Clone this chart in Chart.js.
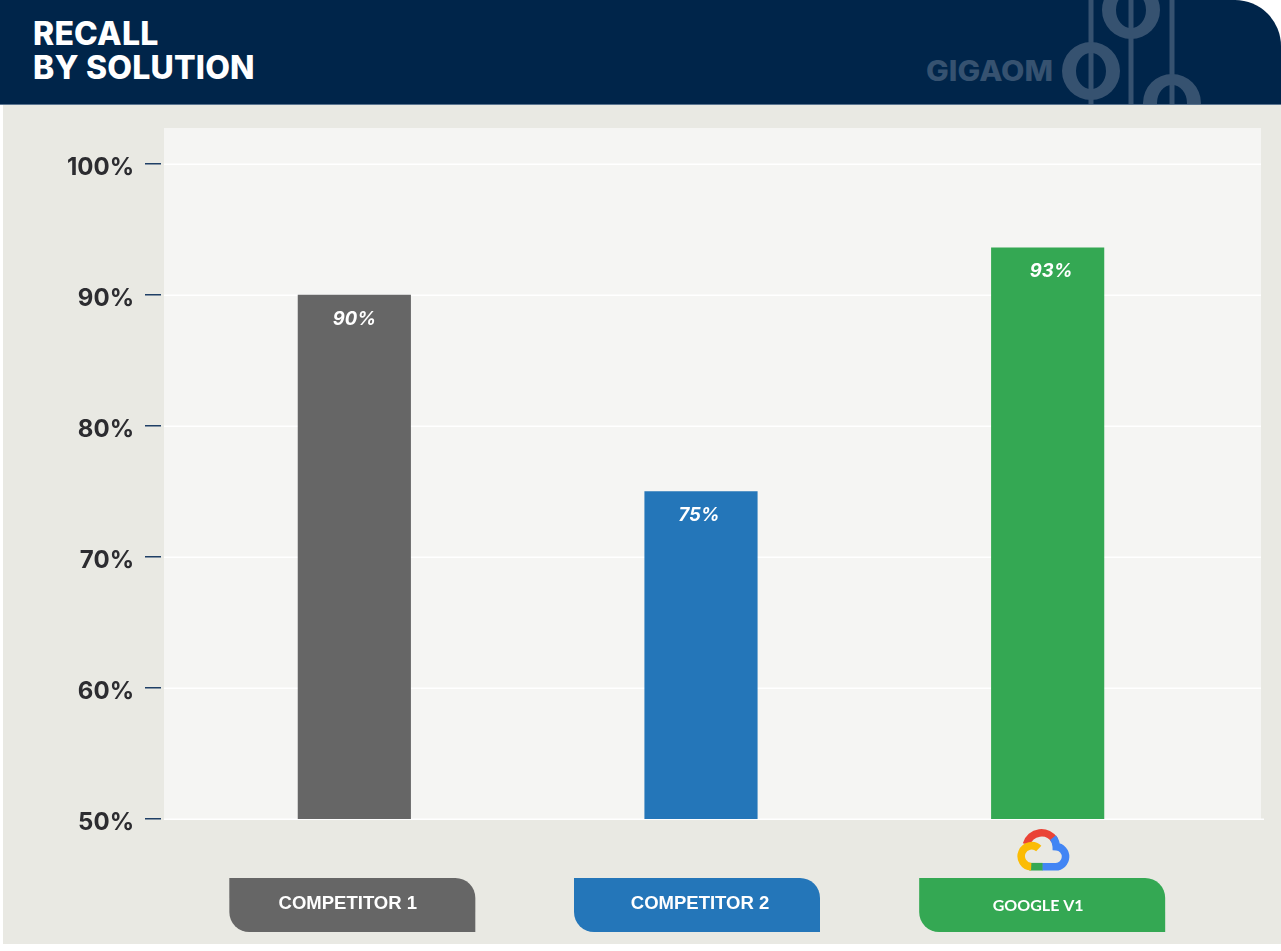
<!DOCTYPE html>
<html>
<head>
<meta charset="utf-8">
<title>Recall by solution</title>
<script src="https://cdn.jsdelivr.net/npm/chart.js@4"></script>
<style>
    html, body { margin: 0; padding: 0; background: #fff; }
    #page { position: relative; width: 1281px; height: 951px; overflow: hidden; }
    #page > * { position: absolute; }
    #header { left: 0; top: 0; width: 1281px; height: 104px; background: #00254a; border-top-right-radius: 46px; border-bottom: 1px solid #5b7590; }
    #title { left: 33px; top: 17px; color: #fff; font: 800 32px/34px Inter, sans-serif; letter-spacing: 0.2px; }
    #panel { left: 3px; top: 105px; width: 1278px; height: 839px; background: #e9e9e3; }
    #plot { left: 164px; top: 128px; width: 1097px; height: 691px; background: #f5f5f3; }
    #logo { left: 0; top: 0; }
    #cloud { left: 1017px; top: 829px; }
    canvas { left: 0; top: 0; }
</style>
</head>
<body>
<div id="page">
    <div id="header"></div>
    <svg id="logo" width="1281" height="104" fill="#365270">
        <text x="926" y="81" font-family="Inter, sans-serif" font-weight="800" font-size="28" textLength="127" lengthAdjust="spacingAndGlyphs">GIGAOM</text>
        <rect x="1088.5" y="0" width="5" height="104"/>
        <rect x="1128.5" y="0" width="5" height="104"/>
        <rect x="1169.5" y="0" width="5" height="104"/>
        <path fill-rule="evenodd" d="M1102 10a29 29 0 1 0 58 0a29 29 0 1 0 -58 0zM1116 10a15 18 0 1 1 30 0a15 18 0 1 1 -30 0z"/>
        <path fill-rule="evenodd" d="M1062 71a29 29 0 1 0 58 0a29 29 0 1 0 -58 0zM1076 71a15 18 0 1 1 30 0a15 18 0 1 1 -30 0z"/>
        <path fill-rule="evenodd" d="M1143 103a29 29 0 1 0 58 0a29 29 0 1 0 -58 0zM1157 103a15 18 0 1 1 30 0a15 18 0 1 1 -30 0z"/>
    </svg>
    <div id="panel"></div>
    <div id="plot"></div>
    <div id="title">RECALL<br>BY SOLUTION</div>
    <svg id="cloud" width="53" height="42" viewBox="7 5 56 44" preserveAspectRatio="none" fill="none" stroke-width="8">
        <path stroke="#ea4335" d="M17 21a16.5 16.5 0 0 1 30 -4"/>
        <path stroke="#4285f4" d="M45 14a16 16 0 0 1 3.500 9.500a10 10.200 0 0 1 -1 21h-14"/>
        <path stroke="#34a853" d="M34 44.500h-14"/>
        <path stroke="#fbbc05" d="M22 44.500a11 11 0 1 1 8 -19"/>
    </svg>
    <canvas id="chartRecall" width="1281" height="951"></canvas>
</div>
<script>
const categories = ["COMPETITOR 1", "COMPETITOR 2", "GOOGLE V1"];
const recallValues = [90, 75, 93.6];
const valueLabels = ["90%", "75%", "93%"];
const barColors = ["#666666", "#2476b9", "#34a853"];
const tickValues = [50, 60, 70, 80, 90, 100];

const pillWidth = 246;
const pillHeight = 54;
const pillTop = 878;
const pillCenterShift = [-2, -4, -5.5];
const pillTextShift = [-4.5, 3, -4];
const valueTextShift = [0, -2, 3.5];

// gridlines run past the bars' category band, so they are drawn here and not by the scale
const gridPlugin = {
    id: "gridBehindBars",
    beforeDatasetsDraw(chart) {
        const ctx = chart.ctx;
        const y = chart.scales.y;
        ctx.save();
        tickValues.forEach((value) => {
            const py = y.getPixelForValue(value);
            ctx.fillStyle = "#ffffff";
            ctx.fillRect(164, py - 0.5, value === 50 ? 1100 : 1097, 1.5);
            ctx.fillStyle = "#1f3f66";
            ctx.fillRect(145, py - 1, 16, 1.5);
        });
        ctx.restore();
    }
};

const labelPlugin = {
    id: "barAndPillLabels",
    afterDatasetsDraw(chart) {
        const ctx = chart.ctx;
        const x = chart.scales.x;
        const y = chart.scales.y;
        ctx.save();
        ctx.textAlign = "center";
        ctx.textBaseline = "middle";
        categories.forEach((name, i) => {
            const px = x.getPixelForValue(i);
            ctx.fillStyle = "#ffffff";
            ctx.font = "italic 700 18.5px Inter, sans-serif";
            ctx.fillText(valueLabels[i], px + valueTextShift[i], y.getPixelForValue(recallValues[i]) + 24);

            const pillCenter = px + pillCenterShift[i];
            ctx.fillStyle = barColors[i];
            ctx.beginPath();
            ctx.roundRect(pillCenter - pillWidth / 2, pillTop, pillWidth, pillHeight, [0, 20, 0, 20]);
            ctx.fill();

            ctx.fillStyle = "#ffffff";
            if (i === 2) {
                ctx.font = "700 16px Lato, sans-serif";
                ctx.fillText(name, pillCenter + pillTextShift[i], pillTop + 28);
            } else {
                ctx.font = "700 18.5px 'Liberation Sans', sans-serif";
                ctx.fillText(name, pillCenter + pillTextShift[i], pillTop + 26);
            }
        });
        ctx.restore();
    }
};

new Chart(document.getElementById("chartRecall").getContext("2d"), {
    type: "bar",
    data: {
        labels: categories,
        datasets: [{
            data: recallValues,
            backgroundColor: barColors,
            barThickness: 112.5,
        }]
    },
    plugins: [gridPlugin, labelPlugin],
    options: {
        responsive: false,
        animation: false,
        layout: { padding: { top: 164, right: 60, bottom: 132, left: 0 } },
        plugins: { legend: { display: false }, tooltip: { enabled: false } },
        scales: {
            x: { display: false },
            y: {
                min: 50,
                max: 100,
                afterFit: (scale) => { scale.width = 181; },
                afterBuildTicks: (scale) => { scale.ticks = tickValues.map((value) => ({ value })); },
                border: { display: false },
                grid: { display: false },
                ticks: {
                    padding: 39,
                    labelOffset: 3.5,
                    color: "#2c2c30",
                    font: { family: "Inter, sans-serif", weight: "700", size: 24 },
                    callback: (value) => value + "%",
                },
            },
        },
    },
});
</script>
</body>
</html>
